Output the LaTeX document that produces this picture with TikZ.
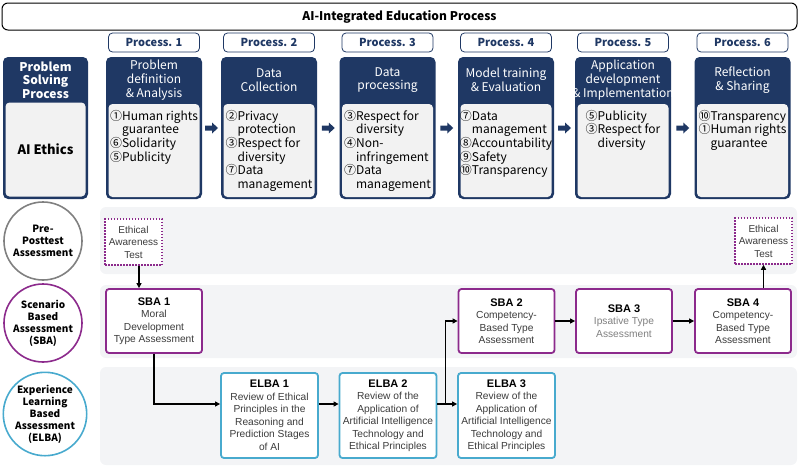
\documentclass[tikz,border=0pt]{standalone}
\usepackage{fontspec}
\setmainfont{Noto Sans CJK KR}
\newfontfamily\arialfont{Liberation Sans}
\usetikzlibrary{calc,arrows.meta}
\definecolor{navy}{RGB}{31,56,100}
\definecolor{innergray}{RGB}{242,242,242}
\definecolor{bandgray}{RGB}{243,244,246}
\definecolor{sbapurple}{RGB}{140,42,140}
\definecolor{elbablue}{RGB}{72,170,206}
\definecolor{circgray}{RGB}{128,128,128}
\definecolor{textgray}{RGB}{60,60,60}
\tikzstyle{titlebox}=[draw=black, line width=1pt, rounded corners=6pt, minimum width=795pt, minimum height=27pt, inner sep=0pt, font=\bfseries\fontsize{12}{14}\selectfont]
\tikzstyle{procbox}=[fill=navy, rounded corners=5pt, minimum width=96pt, minimum height=142pt, inner sep=0pt]
\tikzstyle{proctag}=[draw=navy, line width=0.8pt, fill=white, rounded corners=4pt, minimum width=91pt, minimum height=19pt, inner sep=0pt, text=navy, font=\bfseries\fontsize{11}{13}\selectfont]
\tikzstyle{prochead}=[text=white, align=center, inner sep=0pt, font=\fontsize{12}{13.7}\selectfont]
\tikzstyle{procinner}=[fill=innergray, rounded corners=4pt, minimum width=91pt, minimum height=93pt, inner sep=0pt]
\tikzstyle{procitems}=[anchor=north, align=left, inner sep=0pt, yshift=-6pt, font=\fontsize{12}{13.7}\selectfont]
\tikzstyle{band}=[fill=bandgray, rounded corners=6pt, minimum width=697pt, inner sep=0pt]
\tikzstyle{rowcirc}=[circle, fill=white, line width=1.6pt, minimum size=78pt, inner sep=0pt, align=center, font=\bfseries\fontsize{10}{12}\selectfont]
\tikzstyle{eatbox}=[draw=sbapurple, line width=1.5pt, dash pattern=on 1.5pt off 1.5pt, fill=white, minimum width=57pt, minimum height=46pt, inner sep=0pt, align=center, text=textgray, font=\arialfont\fontsize{10}{12.5}\selectfont]
\tikzstyle{sbabox}=[draw=sbapurple, line width=1.8pt, fill=white, rounded corners=3pt, minimum width=96pt, minimum height=64pt, inner sep=0pt, align=center, text=textgray, font=\arialfont\fontsize{10.2}{12.5}\selectfont]
\tikzstyle{elbabox}=[draw=elbablue, line width=1.8pt, fill=white, rounded corners=3pt, minimum width=97pt, minimum height=85pt, inner sep=0pt, align=center, text=textgray, font=\arialfont\fontsize{10.2}{12.5}\selectfont]
\tikzstyle{conn}=[line width=1.4pt, -{Triangle[length=5pt,width=5pt]}]
\newcommand{\boxtitle}[1]{\textcolor{black}{\bfseries\fontsize{11}{12.5}\selectfont #1}}
\newcommand{\drawprocess}[5]{
  % name, x, tag, heading, items
  \node[procbox] (#1) at (#2,128) {};
  \node[proctag] (#1tag) at (#2,42.5) {#3};
  \node[prochead] (#1head) at (#2,80) {#4};
  \node[procinner] (#1inner) at (#2,150.5) {};
  \node[procitems] (#1items) at (#1inner.north) {#5};
}

\begin{document}
\begin{tikzpicture}[x=1pt,y=-1pt]
\useasboundingbox (0,0) rectangle (800,466);

\node[titlebox] (title) at (399.5,16.5) {AI-Integrated Education Process};

% problem solving process
\node[procbox, minimum width=85pt] (pss) at (45.5,128) {};
\node[prochead, font=\bfseries\fontsize{12}{13.7}\selectfont] (psshead) at (45.5,80) {Problem\\Solving\\Process};
\node[procinner, minimum width=80pt, minimum height=94pt, font=\bfseries\fontsize{13}{15}\selectfont] (ethics) at (45.5,149.5) {AI Ethics};

\drawprocess{p1}{154}{Process. 1}{Problem\\definition\\\& Analysis}{①Human rights\\\phantom{①}guarantee\\⑥Solidarity\\⑤Publicity}
\drawprocess{p2}{269}{Process. 2}{Data\\Collection}{②Privacy\\\phantom{②}protection\\③Respect for\\\phantom{③}diversity\\⑦Data\\\phantom{⑦}management}
\drawprocess{p3}{387.5}{Process. 3}{Data\\processing}{③Respect for\\\phantom{③}diversity\\④Non-\\\phantom{④}infringement\\⑦Data\\\phantom{⑦}management}
\drawprocess{p4}{506}{Process. 4}{Model training\\\& Evaluation}{⑦Data\\\phantom{⑦}management\\⑧Accountability\\⑨Safety\\⑩Transparency}
\drawprocess{p5}{623}{Process. 5}{Application\\development\\\& Implementation}{⑤Publicity\\③Respect for\\\phantom{③}diversity}
\drawprocess{p6}{742.5}{Process. 6}{Reflection\\\& Sharing}{⑩Transparency\\①Human rights\\\phantom{①}guarantee}

\foreach \a/\b in {p1/p2,p2/p3,p3/p4,p4/p5,p5/p6}{
  \coordinate (\a\b) at ($(\a.east)!0.5!(\b.west)$);
  \fill[navy, shift={(\a\b)}] (-6.5,-2.5) -- (0.5,-2.5) -- (0.5,-5.5) -- (6.5,0) -- (0.5,5.5) -- (0.5,2.5) -- (-6.5,2.5) -- cycle;
}

% assessment rows
\node[band, minimum height=67pt] (preband) at (448.5,240.5) {};
\node[band, minimum height=73pt] (sbaband) at (448.5,321.5) {};
\node[band, minimum height=98pt] (elbaband) at (448.5,416) {};

\node[rowcirc, draw=circgray] (precirc) at (43,241) {Pre-\\Posttest\\Assessment};
\node[rowcirc, draw=sbapurple] (sbacirc) at (43,323) {Scenario\\Based\\Assessment\\(SBA)};
\node[rowcirc, draw=elbablue] (elbacirc) at (45,414) {Experience\\Learning\\Based\\Assessment\\(ELBA)};

\node[eatbox] (eat1) at (133.5,242) {Ethical\\Awareness\\Test};
\node[eatbox] (eat2) at (763.5,241) {Ethical\\Awareness\\Test};

\node[sbabox] (sba1) at (154,321) {\boxtitle{SBA 1}\\Moral\\Development\\Type Assessment};
\node[sbabox] (sba2) at (506.5,321) {\boxtitle{SBA 2}\\Competency-\\Based Type\\Assessment};
\node[sbabox, text=gray] (sba3) at (624,321) {\boxtitle{SBA 3}\\Ipsative Type\\Assessment};
\node[sbabox] (sba4) at (743,321) {\boxtitle{SBA 4}\\Competency-\\Based Type\\Assessment};

\node[elbabox] (elba1) at (269.5,415.5) {\boxtitle{ELBA 1}\\Review of Ethical\\Principles in the\\Reasoning and\\Prediction Stages\\of AI};
\node[elbabox] (elba2) at (388,415.5) {\boxtitle{ELBA 2}\\Review of the\\Application of\\Artificial Intelligence\\Technology and\\Ethical Principles};
\node[elbabox] (elba3) at (506.5,415.5) {\boxtitle{ELBA 3}\\Review of the\\Application of\\Artificial Intelligence\\Technology and\\Ethical Principles};

% connectors
\coordinate (eat1out) at ([xshift=5.5pt]eat1.south);
\draw[conn] (eat1out) -- (eat1out |- sba1.north);
\draw[conn] (sba1.south) |- ([yshift=11.5pt]elba1.west);
\draw[conn] ([yshift=11.5pt]elba1.east) -- ([yshift=11.5pt]elba2.west);
\draw[conn] ([yshift=11.5pt]elba2.east) -- ([yshift=11.5pt]elba3.west);
\coordinate (fork) at ($([yshift=11.5pt]elba2.east)+(8,0)$);
\draw[conn] (fork) |- (sba2.west);
\draw[conn] (sba2) -- (sba3);
\draw[conn] (sba3) -- (sba4);
\draw[conn] (eat2.south |- sba4.north) -- (eat2.south);
\end{tikzpicture}
\end{document}
